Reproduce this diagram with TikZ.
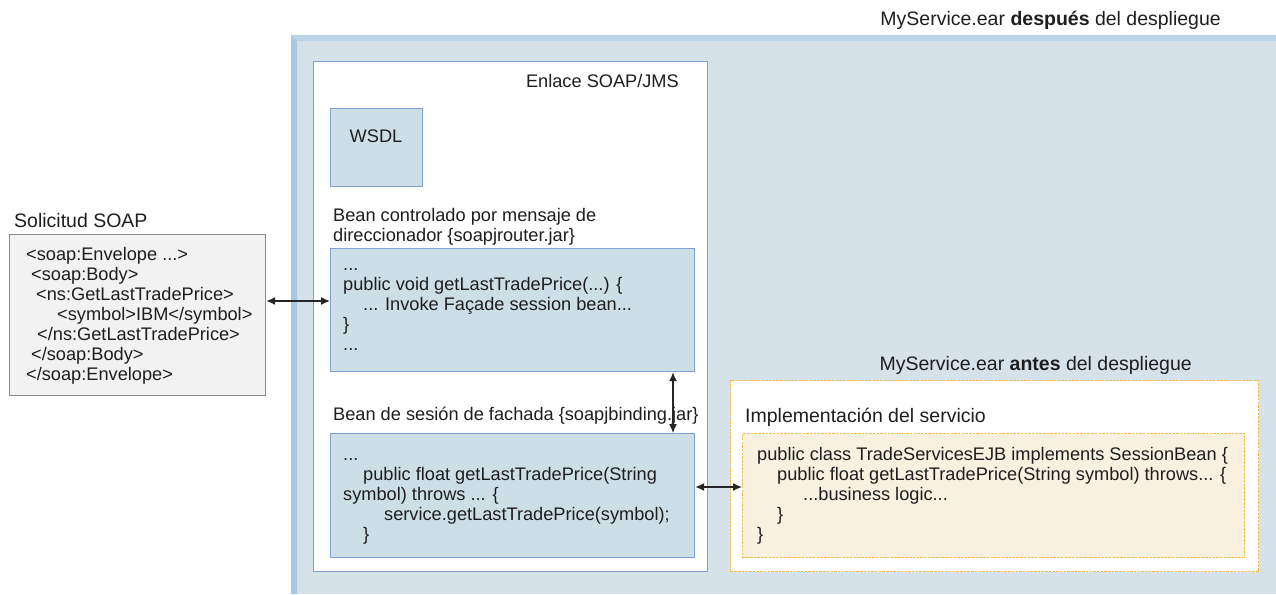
\documentclass[tikz,border=0pt]{standalone}
\usepackage{fontspec}
\setmainfont{Liberation Sans}
\usetikzlibrary{arrows.meta,positioning}
\definecolor{ink}{HTML}{1E1E1E}
\definecolor{earfill}{HTML}{D6E2E9}
\definecolor{eartop}{HTML}{BCD5E6}
\definecolor{earleft}{HTML}{A8C8E2}
\definecolor{boxedge}{HTML}{7FA2D2}
\definecolor{boxfill}{HTML}{CCDFE6}
\definecolor{reqfill}{HTML}{F2F2F2}
\definecolor{reqedge}{HTML}{8C8C8C}
\definecolor{orange}{HTML}{F6B94C}
\definecolor{cream}{HTML}{F8F1DF}

\begin{document}
\begin{tikzpicture}[x=1pt,y=-1pt,
  every node/.style={inner sep=0pt,text=ink},
  body/.style={font=\fontsize{18.2}{20}\selectfont},
  head/.style={font=\fontsize{19.5}{22}\selectfont},
  lines/.style={body,align=left,anchor=north west},
  plainbox/.style={anchor=north west,line width=1.2pt},
  bluebox/.style={plainbox,draw=boxedge,fill=boxfill},
  dotbox/.style={plainbox,draw=orange,dash pattern=on 2.5pt off 1.2pt},
  link/.style={{Latex[length=9pt,width=8pt]}-{Latex[length=9pt,width=8pt]},line width=1.3pt,black!85}]
  \useasboundingbox (0,0) rectangle (1276,594);

  % MyService.ear after deployment
  \fill[earfill] (291,35) rectangle (1276,594);
  \fill[eartop] (291,35) -- (1276,35) -- (1276,41) -- (297,41) -- cycle;
  \fill[earleft] (291,35) -- (297,41) -- (297,594) -- (291,594) -- cycle;
  \node[head,anchor=base east] (after) at (1221,26) {MyService.ear \textbf{después} del despliegue};

  % SOAP/JMS binding
  \node[plainbox,draw=boxedge,fill=white,minimum width=394pt,minimum height=510pt] (binding) at (313,61) {};
  \node[body,anchor=base east] (bindlbl) at (679,88) {Enlace SOAP/JMS};
  \node[bluebox,minimum width=92pt,minimum height=78pt] (wsdl) at (330,108) {};
  \node[body,anchor=base] (wsdllbl) at (376,142) {WSDL};

  \node[lines] (routerlbl) at (333,206) {\rule{0pt}{15pt}Bean controlado por mensaje de\\direccionador \{soapjrouter.jar\}};
  \node[bluebox,minimum width=364pt,minimum height=123pt] (router) at (330,248) {};
  \node[lines] (routercode) at (343,255) {\rule{0pt}{15pt}...\\
    public void getLastTradePrice(...) \{\\
    \hspace*{20pt}... Invoke Façade session bean...\\
    \}\\
    ...};

  \node[body,anchor=base west] (facadelbl) at (333,420) {Bean de sesión de fachada \{soapjbinding.jar\}};
  \node[bluebox,minimum width=364pt,minimum height=124pt] (facade) at (330,433) {};
  \node[lines] (facadecode) at (343,445) {\rule{0pt}{15pt}...\\
    \hspace*{20pt}public float getLastTradePrice(String\\
    symbol) throws ... \{\\
    \hspace*{41pt}service.getLastTradePrice(symbol);\\
    \hspace*{20pt}\}};

  % SOAP request
  \node[head,anchor=base west] (reqlbl) at (14,227) {Solicitud SOAP};
  \node[plainbox,draw=reqedge,fill=reqfill,minimum width=256pt,minimum height=161pt] (request) at (9,234) {};
  \node[lines] (reqcode) at (26,245) {\rule{0pt}{15pt}<soap:Envelope ...>\\
    \hspace*{5pt}<soap:Body>\\
    \hspace*{10pt}<ns:GetLastTradePrice>\\
    \hspace*{31pt}<symbol>IBM</symbol>\\
    \hspace*{11pt}</ns:GetLastTradePrice>\\
    \hspace*{5pt}</soap:Body>\\
    </soap:Envelope>};

  % MyService.ear before deployment
  \node[head,anchor=base east] (before) at (1192,370) {MyService.ear \textbf{antes} del despliegue};
  \node[dotbox,fill=white,minimum width=528pt,minimum height=191pt] (ear) at (730,380) {};
  \node[head,anchor=base west] (impllbl) at (745,422) {Implementación del servicio};
  \node[dotbox,fill=cream,minimum width=502pt,minimum height=124pt] (impl) at (742,433) {};
  \node[lines] (implcode) at (757,445) {\rule{0pt}{15pt}public class TradeServicesEJB implements SessionBean \{\\
    \hspace*{20pt}public float getLastTradePrice(String symbol) throws... \{\\
    \hspace*{46pt}...business logic...\\
    \hspace*{20pt}\}\\
    \}};

  % connectors
  \draw[link] (request.east |- 0,301) -- (router.west |- 0,301);
  \draw[link] (router.south -| 673,0) -- (facade.north -| 673,0);
  \draw[link] (facade.east |- 0,487) -- (impl.west |- 0,487);
\end{tikzpicture}
\end{document}
